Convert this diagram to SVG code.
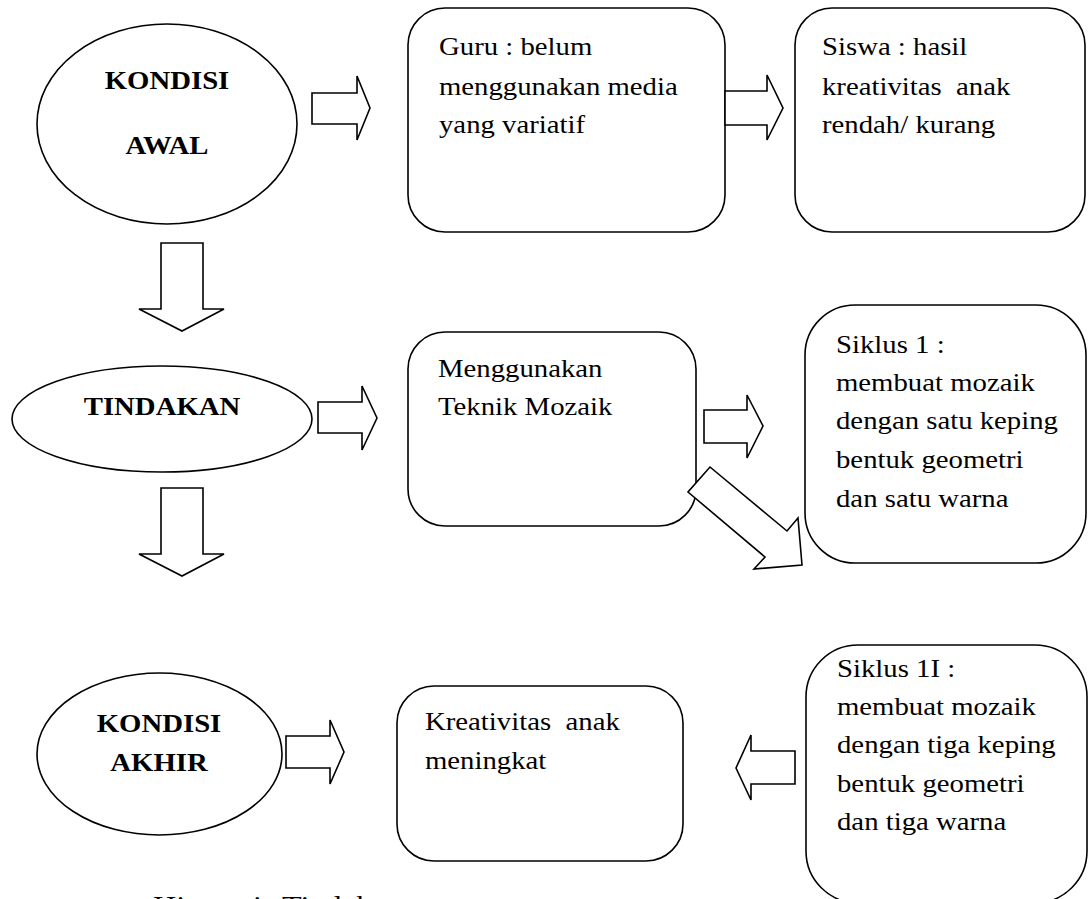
<svg xmlns="http://www.w3.org/2000/svg" width="1090" height="899" viewBox="0 0 1090 899" xml:space="preserve">
<style>
.shape{fill:#fff;stroke:#000;stroke-width:1.6}
.arr{fill:#fff;stroke:#000;stroke-width:1.6;stroke-linejoin:miter}
.t{font-family:"Liberation Serif","Times New Roman",serif;font-size:25px;fill:#000;white-space:pre}
.b{font-family:"Liberation Serif","Times New Roman",serif;font-size:25px;font-weight:bold;fill:#000;text-anchor:middle}
</style>
<rect width="1090" height="899" fill="#fff"/>
<g id="kondisi-awal">
<ellipse class="shape" cx="167" cy="124" rx="130" ry="100"/>
<text class="b" transform="translate(167,89) scale(1.15,1)">KONDISI</text>
<text class="b" transform="translate(167,154) scale(1.15,1)">AWAL</text>
</g>
<g id="guru">
<rect class="shape" x="408" y="8" width="317" height="224" rx="37"/>
<text class="t" transform="translate(439,55) scale(1.15,1)">Guru : belum</text>
<text class="t" transform="translate(439,95) scale(1.15,1)">menggunakan media</text>
<text class="t" transform="translate(439,133) scale(1.15,1)">yang variatif</text>
</g>
<g id="siswa">
<rect class="shape" x="795" y="8" width="290" height="224" rx="37"/>
<text class="t" transform="translate(822,55) scale(1.15,1)">Siswa : hasil</text>
<text class="t" transform="translate(822,95) scale(1.15,1)">kreativitas  anak</text>
<text class="t" transform="translate(822,133) scale(1.15,1)">rendah/ kurang</text>
</g>
<g id="tindakan">
<ellipse class="shape" cx="162" cy="419" rx="150" ry="53"/>
<text class="b" transform="translate(162,415) scale(1.15,1)">TINDAKAN</text>
</g>
<g id="mozaik">
<rect class="shape" x="408" y="332" width="288" height="194" rx="37"/>
<text class="t" transform="translate(438,377) scale(1.15,1)">Menggunakan</text>
<text class="t" transform="translate(438,415) scale(1.15,1)">Teknik Mozaik</text>
</g>
<g id="siklus1">
<rect class="shape" x="805" y="305" width="281" height="258" rx="50"/>
<text class="t" transform="translate(836,353) scale(1.15,1)">Siklus 1 :</text>
<text class="t" transform="translate(836,391) scale(1.15,1)">membuat mozaik</text>
<text class="t" transform="translate(836,429) scale(1.15,1)">dengan satu keping</text>
<text class="t" transform="translate(836,468) scale(1.15,1)">bentuk geometri</text>
<text class="t" transform="translate(836,507) scale(1.15,1)">dan satu warna</text>
</g>
<g id="kondisi-akhir">
<ellipse class="shape" cx="159.5" cy="754" rx="122.5" ry="81"/>
<text class="b" transform="translate(159,732) scale(1.15,1)">KONDISI</text>
<text class="b" transform="translate(159,771) scale(1.15,1)">AKHIR</text>
</g>
<g id="kreativitas">
<rect class="shape" x="397" y="686" width="286" height="175" rx="37"/>
<text class="t" transform="translate(425,730) scale(1.15,1)">Kreativitas  anak</text>
<text class="t" transform="translate(425,769) scale(1.15,1)">meningkat</text>
</g>
<g id="siklus2">
<rect class="shape" x="806" y="645" width="281" height="258" rx="52"/>
<text class="t" transform="translate(837,677) scale(1.15,1)">Siklus 1I :</text>
<text class="t" transform="translate(837,715) scale(1.15,1)">membuat mozaik</text>
<text class="t" transform="translate(837,753) scale(1.15,1)">dengan tiga keping</text>
<text class="t" transform="translate(837,792) scale(1.15,1)">bentuk geometri</text>
<text class="t" transform="translate(837,830) scale(1.15,1)">dan tiga warna</text>
</g>
<g id="connectors">
<polygon class="arr" points="312,93 357,93 357,76 370,108 357,140 357,124 312,124"/>
<polygon class="arr" points="725,91 767,91 767,75 783,108 767,140 767,125 725,125"/>
<polygon class="arr" points="161,243 203,243 203,309 224,309 182,331 139,309 161,309"/>
<polygon class="arr" points="318,402 362,402 362,386 377,418 362,450 362,433 318,433"/>
<polygon class="arr" points="704,410 747,410 747,395 763,426 747,458 747,443 704,443"/>
<polygon class="arr" points="710,467 787,531 798,518 802,565 754,569 765,557 688,492"/>
<polygon class="arr" points="161,488 203,488 203,554 224,554 182,576 139,554 161,554"/>
<polygon class="arr" points="286,736 330,736 330,720 344,752 330,784 330,768 286,768"/>
<polygon class="arr" points="795,751 751,751 751,735 736,768 751,800 751,784 795,784"/>
</g>
<text class="t" style="font-size:28px" transform="translate(153,915) scale(1.15,1)">Hipotesis Tindakan</text>
</svg>
